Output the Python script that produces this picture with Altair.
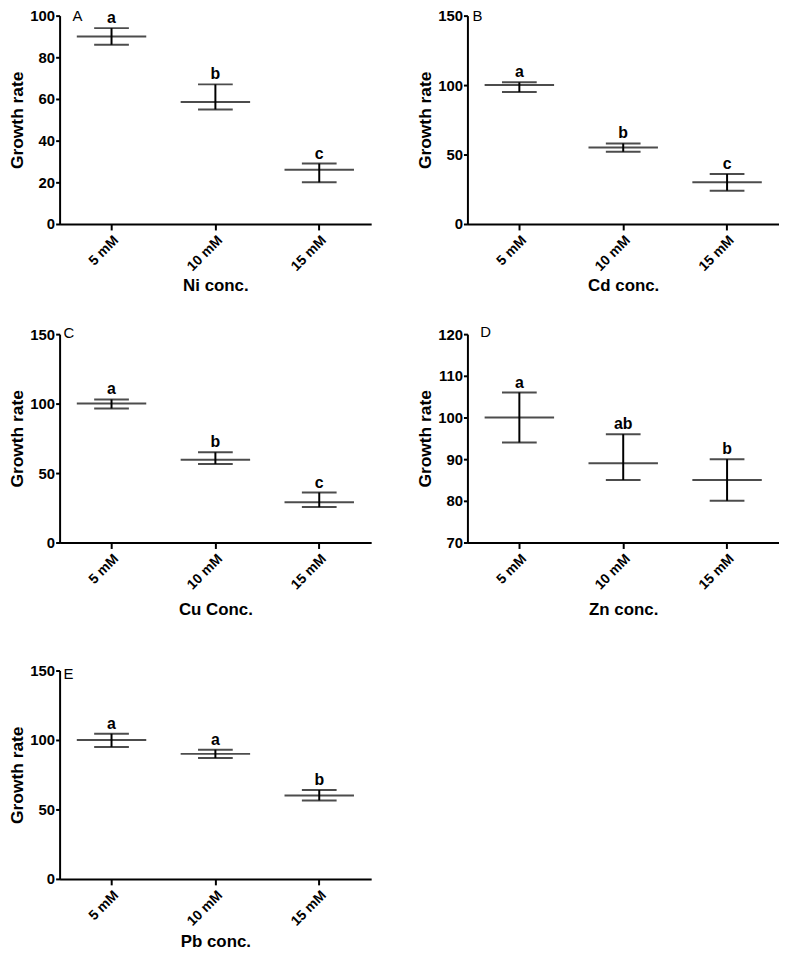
import altair as alt
import pandas as pd

categories = ["5 mM", "10 mM", "15 mM"]

panel_ids = ["A", "B", "C", "D", "E"]
x_titles = ["Ni conc.", "Cd conc.", "Cu Conc.", "Zn conc.", "Pb conc."]
y_domains = [[0, 100], [0, 150], [0, 150], [70, 120], [0, 150]]
y_ticks = [[0, 20, 40, 60, 80, 100], [0, 50, 100, 150], [0, 50, 100, 150],
           [70, 80, 90, 100, 110, 120], [0, 50, 100, 150]]

ni_mean = [90, 58.5, 26]
ni_upper = [94, 67, 29]
ni_lower = [86, 55, 20]
ni_letters = ["a", "b", "c"]

cd_mean = [100, 55, 30]
cd_upper = [102, 58, 36]
cd_lower = [95, 52, 24]
cd_letters = ["a", "b", "c"]

cu_mean = [100, 59.5, 29]
cu_upper = [103, 65, 36]
cu_lower = [96.5, 56.5, 25.5]
cu_letters = ["a", "b", "c"]

zn_mean = [100, 89, 85]
zn_upper = [106, 96, 90]
zn_lower = [94, 85, 80]
zn_letters = ["a", "ab", "b"]

pb_mean = [100, 90, 60]
pb_upper = [104.5, 93, 64]
pb_lower = [95, 87, 56.5]
pb_letters = ["a", "a", "b"]

means = [ni_mean, cd_mean, cu_mean, zn_mean, pb_mean]
uppers = [ni_upper, cd_upper, cu_upper, zn_upper, pb_upper]
lowers = [ni_lower, cd_lower, cu_lower, zn_lower, pb_lower]
letters = [ni_letters, cd_letters, cu_letters, zn_letters, pb_letters]

# panel letter offsets (pixels from plot's top-left)
letter_pos = [(13, 0), (5, 0), (4, -1), (13, -2), (4, 4)]
x_title_pad = [4, 4, 10, 10, 5]

FONT = "Liberation Sans"
W, H = 314, 210
LW = 2


def panel(i):
    df = pd.DataFrame({
        "conc": categories,
        "mean": means[i],
        "upper": uppers[i],
        "lower": lowers[i],
        "letter": letters[i],
    })
    x = alt.X("conc:N", sort=categories,
              scale=alt.Scale(paddingInner=0, paddingOuter=0),
              axis=alt.Axis(title=x_titles[i], labelAngle=-45, labelFont=FONT,
                            labelFontWeight="bold", labelFontSize=14,
                            labelColor="black", titleFont=FONT,
                            titleFontWeight="bold", titleFontSize=17,
                            titleColor="black", titlePadding=x_title_pad[i],
                            domainColor="black", domainWidth=LW,
                            tickColor="black", tickWidth=LW, tickSize=6,
                            labelPadding=3))
    yscale = alt.Scale(domain=y_domains[i], nice=False, zero=False)
    yaxis = alt.Axis(title="Growth rate", values=y_ticks[i], grid=False,
                     labelFont=FONT, labelFontWeight="bold", labelFontSize=15,
                     labelColor="black", titleFont=FONT, titleFontWeight="bold",
                     titleFontSize=17.5, titleColor="black", titlePadding=3,
                     domainColor="black", domainWidth=LW, tickColor="black",
                     tickWidth=LW, tickSize=4, labelPadding=1)
    base = alt.Chart(df)
    mean_tick = base.mark_tick(color="black", size=70, thickness=LW).encode(
        x=x, y=alt.Y("mean:Q", scale=yscale, axis=yaxis))
    rule = base.mark_rule(color="black", strokeWidth=LW).encode(
        x=x, y=alt.Y("lower:Q", scale=yscale), y2="upper:Q")
    cap_hi = base.mark_tick(color="black", size=35, thickness=LW).encode(
        x=x, y=alt.Y("upper:Q", scale=yscale))
    cap_lo = base.mark_tick(color="black", size=35, thickness=LW).encode(
        x=x, y=alt.Y("lower:Q", scale=yscale))
    txt = base.mark_text(font=FONT, fontWeight="bold", fontSize=16,
                         color="black", baseline="bottom", dy=-2).encode(
        x=x, y=alt.Y("upper:Q", scale=yscale), text="letter:N")
    lx, ly = letter_pos[i]
    plabel = alt.Chart(pd.DataFrame({"t": [panel_ids[i]]})).mark_text(
        font=FONT, fontSize=15, color="black", align="left",
        baseline="middle").encode(x=alt.value(lx), y=alt.value(ly), text="t:N")
    return alt.layer(mean_tick, rule, cap_hi, cap_lo, txt, plabel).properties(
        width=W, height=H)


row1 = alt.hconcat(panel(0), panel(1), spacing=45)
row2 = alt.hconcat(panel(2), panel(3), spacing=45)
row3 = panel(4)

top = alt.vconcat(row1, row2, spacing=32)
chart = alt.vconcat(top, row3, spacing=46).properties(
    padding={"left": 0, "top": -3, "right": 0, "bottom": 0}
).configure(background="white").configure_view(stroke=None)

chart.save("out.html", embed_options={"renderer": "svg", "actions": False})
